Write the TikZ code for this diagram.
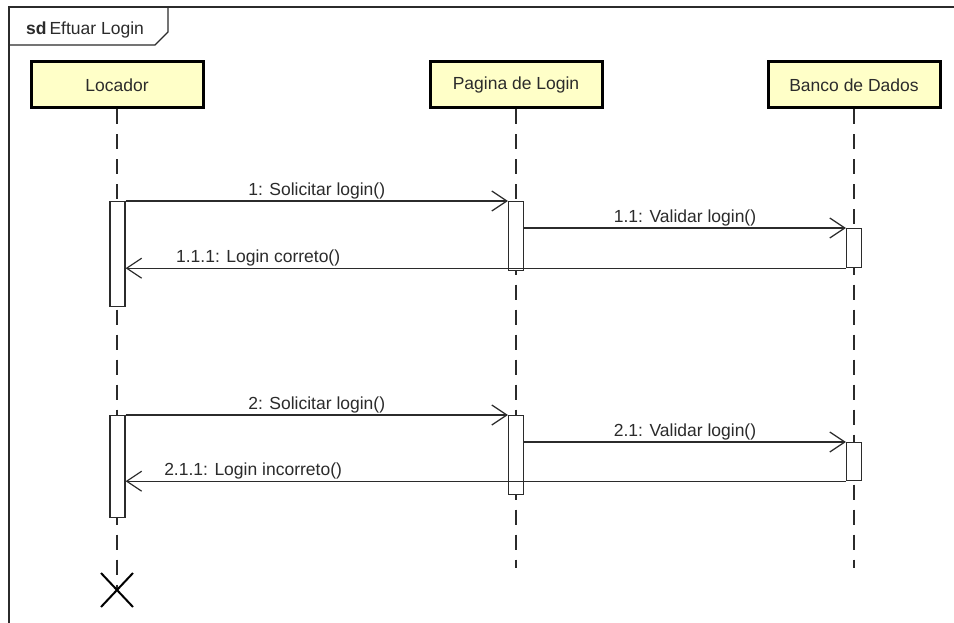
\documentclass[tikz,border=0pt]{standalone}
\usepackage{fontspec}
\setmainfont{Liberation Sans}
\usetikzlibrary{arrows.meta,calc}
\definecolor{ink}{HTML}{2B2B2B}
\definecolor{headfill}{HTML}{FFFFC8}
\begin{document}
\begin{tikzpicture}[x=1pt,y=-1pt,
  every node/.style={font=\fontsize{17.5}{20}\selectfont, text=ink},
  lifehead/.style={draw=black, line width=3pt, fill=headfill,
    minimum width=172pt, minimum height=46pt, inner sep=0pt},
  lifeline/.style={draw=ink, line width=1.3pt, dash pattern=on 15pt off 10pt},
  actbar/.style={draw=ink, line width=1.2pt, fill=white,
    minimum width=15pt, inner sep=0pt, anchor=north},
  msg/.style={draw=ink, line width=1.2pt, -{Straight Barb[length=15pt,width=20pt,line width=1.2pt]}},
  msglabel/.style={inner sep=0pt, above=1.5pt},
  framebox/.style={draw=ink, line width=1.4pt}]
\useasboundingbox (0,0) rectangle (954,623);
\fill[white] (0,0) rectangle (954,623);

% interaction frame with its name tab
\draw[framebox] (954,7) -- (9,7) -- (9,623);
\draw[framebox] (9,45) -- (155,45) -- (168,32) -- (168,7);
\node[anchor=base west, inner sep=0pt] (title) at (26,35) {\textbf{sd}\,Eftuar Login};

% lifeline heads
\node[lifehead] (loc) at (117,85) {Locador};
\node[lifehead] (pag) at (516,85) {Pagina de Login};
\node[lifehead] (ban) at (854,85) {Banco de Dados};

% lifeline ends
\coordinate (locend) at (117,590);
\coordinate (pagend) at (516,568);
\coordinate (banend) at (854,568);

% dashed lifelines
\draw[lifeline] (loc.south) -- (locend);
\draw[lifeline] (pag.south) -- (pagend);
\draw[lifeline] (ban.south) -- (banend);

% destruction mark
\draw[draw=black, line width=2pt] ($(locend)+(-16,-17)$) -- ($(locend)+(16,17)$);
\draw[draw=black, line width=2pt] ($(locend)+(-16,17)$) -- ($(locend)+(16,-17)$);

% activation bars, first exchange
\node[actbar, minimum height=105pt] (la) at (117.5,201) {};
\node[actbar, minimum height=69pt] (pa) at (516,201) {};
\node[actbar, minimum height=39pt] (ba) at (854,228) {};

% activation bars, second exchange
\node[actbar, minimum height=102pt] (lb) at (117.5,415) {};
\node[actbar, minimum height=79pt] (pb) at (516,415) {};
\node[actbar, minimum height=38pt] (bb) at (854,442) {};

% first exchange
\draw[msg] (la.north east) -- node[msglabel] (m1) {1: Solicitar login()} (pa.north west);
\draw[msg] (pa.east |- ba.north west) -- node[msglabel] (m11) {1.1: Validar login()} (ba.north west);
\draw[msg] (ba.south west) -- node[msglabel, pos=0.816] (m111) {1.1.1: Login correto()} (la.east |- ba.south west);

% second exchange
\draw[msg] (lb.north east) -- node[msglabel] (m2) {2: Solicitar login()} (pb.north west);
\draw[msg] (pb.east |- bb.north west) -- node[msglabel] (m21) {2.1: Validar login()} (bb.north west);
\draw[msg] (bb.south west) -- node[msglabel, pos=0.823] (m211) {2.1.1: Login incorreto()} (lb.east |- bb.south west);
\end{tikzpicture}
\end{document}
